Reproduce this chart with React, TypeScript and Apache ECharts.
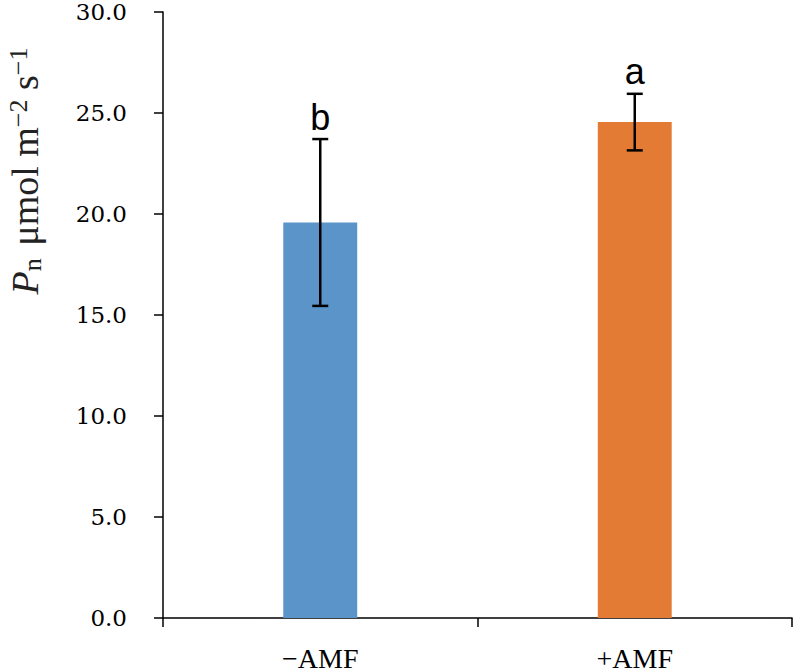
import React, { useEffect, useRef } from "react";
import * as echarts from "echarts";

const categories = ["−AMF", "+AMF"];
const means = [19.58, 24.55];
const errors = [4.13, 1.4];
const letters = ["b", "a"];
const barColors = ["#5B94C8", "#E37B34"];
const yTicks = { min: 0, max: 30, interval: 5 };

export default function App() {
  const ref = useRef<HTMLDivElement>(null);
  useEffect(() => {
    document.body.style.margin = "0";
    const chart = echarts.init(ref.current!, null, { renderer: "svg" });
    const errData = means.map((m, i) => [i, m - errors[i], m + errors[i]]);
    chart.setOption({
      animation: false,
      backgroundColor: "#ffffff",
      grid: { left: 163, right: 2, top: 12, bottom: 48, containLabel: false },
      xAxis: {
        type: "category",
        data: categories,
        boundaryGap: true,
        axisLine: { lineStyle: { color: "#000", width: 1.5 } },
        axisTick: { show: true, length: 9, inside: false, lineStyle: { color: "#000", width: 1.5 } },
        axisLabel: { color: "#000", fontFamily: "Liberation Serif", fontSize: 28, margin: 28, lineHeight: 24 },
        splitLine: { show: false },
      },
      yAxis: {
        type: "value",
        min: yTicks.min,
        max: yTicks.max,
        interval: yTicks.interval,
        axisLine: { show: true, lineStyle: { color: "#000", width: 1.5 } },
        axisTick: { show: true, length: 9, lineStyle: { color: "#000", width: 1.5 } },
        axisLabel: {
          color: "#000",
          fontFamily: "DejaVu Serif",
          fontSize: 23,
          lineHeight: 20,
          margin: 36,
          formatter: (v: number) => v.toFixed(1),
        },
        splitLine: { show: false },
      },
      graphic: [
        {
          type: "text",
          x: 25,
          y: 171,
          rotation: Math.PI / 2,
          style: {
            text: "{i|P}{sub|n} μmol m{sup|−2} s{sup|−1}",
            align: "center",
            verticalAlign: "middle",
            fill: "#222",
            fontFamily: "Liberation Serif",
            fontSize: 38,
            rich: {
              i: { fontStyle: "italic", fontFamily: "Liberation Serif", fontSize: 38, lineHeight: 40, verticalAlign: "middle" },
              sub: { fontFamily: "Liberation Serif", fontSize: 26, lineHeight: 40, verticalAlign: "bottom", padding: [0, 3, 0, 0] },
              sup: { fontFamily: "Liberation Serif", fontSize: 26, lineHeight: 40, verticalAlign: "top" },
            },
          },
        },
      ],
      series: [
        {
          type: "bar",
          data: means.map((v, i) => ({ value: v, itemStyle: { color: barColors[i] } })),
          barWidth: "23.5%",
        },
        {
          type: "custom",
          data: errData,
          z: 10,
          renderItem: (params: any, api: any) => {
            const x = api.value(0);
            const lo = api.coord([x, api.value(1)]);
            const hi = api.coord([x, api.value(2)]);
            const hw = 8;
            const ls = { stroke: "#000", lineWidth: 2.5 };
            return {
              type: "group",
              children: [
                { type: "line", shape: { x1: lo[0], y1: lo[1], x2: hi[0], y2: hi[1] }, style: ls },
                { type: "line", shape: { x1: hi[0] - hw, y1: hi[1], x2: hi[0] + hw, y2: hi[1] }, style: ls },
                { type: "line", shape: { x1: lo[0] - hw, y1: lo[1], x2: lo[0] + hw, y2: lo[1] }, style: ls },
                {
                  type: "text",
                  style: {
                    text: letters[params.dataIndex],
                    x: hi[0],
                    y: hi[1] - 4,
                    align: "center",
                    verticalAlign: "bottom",
                    fill: "#000",
                    fontFamily: "Liberation Sans",
                    fontSize: 36,
                  },
                },
              ],
            };
          },
        },
      ],
    });
    return () => chart.dispose();
  }, []);
  return <div ref={ref} style={{ width: 794, height: 672 }} />;
}
